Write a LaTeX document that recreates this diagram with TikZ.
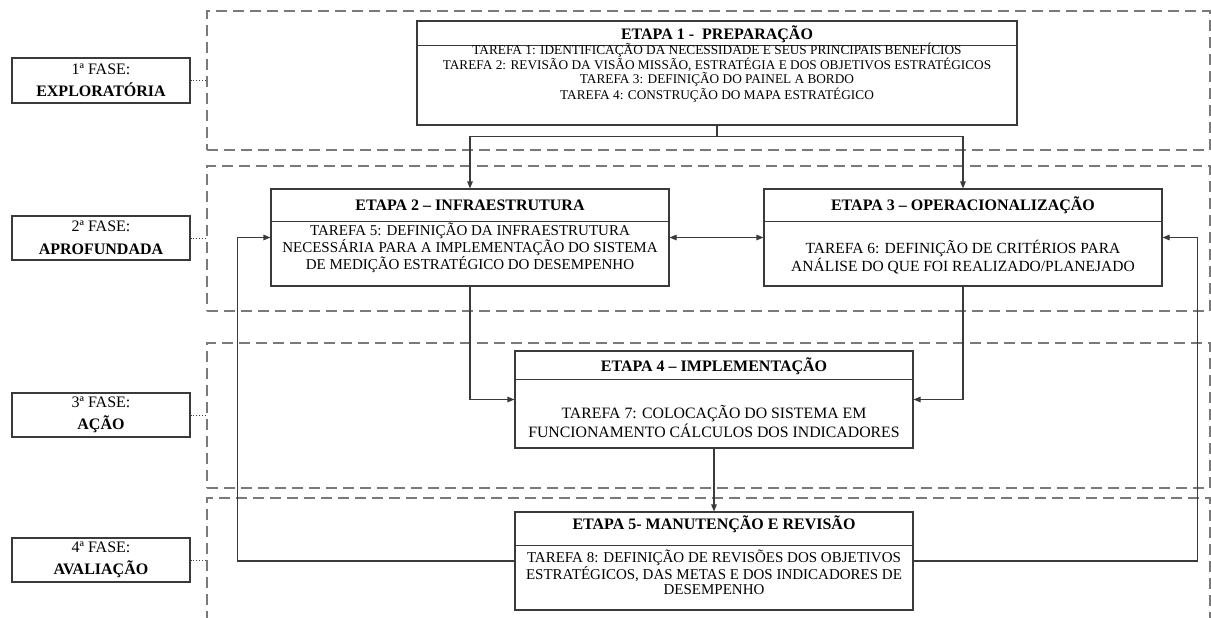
\documentclass[tikz,border=0pt]{standalone}
\usepackage{fontspec}
\setmainfont{Liberation Serif}
\usetikzlibrary{arrows.meta}
\definecolor{dashgray}{HTML}{7A7A7A}
\definecolor{linegray}{HTML}{3A3A3A}
\begin{document}
\begin{tikzpicture}[x=1pt,y=-1pt,
  phasebox/.style={draw=dashgray, dash pattern=on 11pt off 6pt, line width=1.1pt,
    rectangle, inner sep=0pt, minimum width=1003pt},
  labelbox/.style={draw=linegray, line width=1.1pt, rectangle, inner sep=0pt,
    minimum width=178pt, minimum height=44pt, align=center,
    font=\fontsize{16}{22.5}\selectfont},
  etapabox/.style={draw=linegray, line width=1.1pt, rectangle, inner sep=0pt, fill=white},
  headtext/.style={inner sep=0pt, align=center, font=\fontsize{16}{18}\bfseries\selectfont},
  bodytext/.style={inner sep=0pt, align=center},
  sepline/.style={draw=linegray, line width=1pt},
  link/.style={draw=linegray, line width=1.1pt},
  arr/.style={link, -{Triangle[length=7pt,width=5.5pt]}},
  dots/.style={draw=linegray, line width=0.9pt, dotted}
]
\useasboundingbox (0,0) rectangle (1211,618);

% phase frames
\node[phasebox, minimum height=139pt] (ph1) at (708.5,80.5) {};
\node[phasebox, minimum height=145pt] (ph2) at (708.5,238.5) {};
\node[phasebox, minimum height=145pt] (ph3) at (708.5,415.5) {};
\begin{scope}
  \clip (0,0) rectangle (1211,618);
  \node[phasebox, minimum height=142pt] (ph4) at (708.5,569) {};
\end{scope}

% phase labels
\node[labelbox, minimum height=45pt] (p1) at (101,80.5) {1ª FASE:\\\textbf{EXPLORATÓRIA}};
\node[labelbox] (p2) at (101,238) {2ª FASE:\\\textbf{APROFUNDADA}};
\node[labelbox] (p3) at (101,415) {3ª FASE:\\\textbf{AÇÃO}};
\node[labelbox] (p4) at (101,560) {4ª FASE:\\\textbf{AVALIAÇÃO}};
\draw[dots] (p1.east) -- (p1.east -| ph1.west);
\draw[dots] (p2.east) -- (p2.east -| ph2.west);
\draw[dots] (p3.east) -- (p3.east -| ph3.west);
\draw[dots] (p4.east) -- (p4.east -| ph4.west);

% stage 1
\node[etapabox, minimum width=600pt, minimum height=104pt] (e1) at (717,73) {};
\draw[sepline] (417,46) -- (1017,46);
\node[headtext] (h1) at (717,34) {ETAPA 1 -\ \ PREPARAÇÃO};
\node[bodytext, font=\fontsize{13.3}{12.8}\selectfont] (b1) at (717,72.5)
  {TAREFA 1: IDENTIFICAÇÃO DA NECESSIDADE E SEUS PRINCIPAIS BENEFÍCIOS\\
   TAREFA 2: REVISÃO DA VISÃO MISSÃO, ESTRATÉGIA E DOS OBJETIVOS ESTRATÉGICOS\\
   TAREFA 3: DEFINIÇÃO DO PAINEL A BORDO\\
   TAREFA 4: CONSTRUÇÃO DO MAPA ESTRATÉGICO};

% stage 2
\node[etapabox, minimum width=398pt, minimum height=97pt] (e2) at (470,237.5) {};
\draw[sepline] (271,221) -- (669,221);
\node[headtext] (h2) at (470,205) {ETAPA 2 – INFRAESTRUTURA};
\node[bodytext, font=\fontsize{15}{14.5}\selectfont] (b2) at (470,248)
  {TAREFA 5: DEFINIÇÃO DA INFRAESTRUTURA\\
   NECESSÁRIA PARA A IMPLEMENTAÇÃO DO SISTEMA\\
   DE MEDIÇÃO ESTRATÉGICO DO DESEMPENHO};

% stage 3
\node[etapabox, minimum width=398pt, minimum height=97pt] (e3) at (963,237.5) {};
\draw[sepline] (764,221) -- (1162,221);
\node[headtext] (h3) at (963,205) {ETAPA 3 – OPERACIONALIZAÇÃO};
\node[bodytext, font=\fontsize{15.5}{16}\selectfont] (b3) at (963,257)
  {TAREFA 6: DEFINIÇÃO DE CRITÉRIOS PARA\\
   ANÁLISE DO QUE FOI REALIZADO/PLANEJADO};

% stage 4
\node[etapabox, minimum width=398pt, minimum height=97pt] (e4) at (714,399.5) {};
\draw[sepline] (515,379) -- (913,379);
\node[headtext] (h4) at (714,366) {ETAPA 4 – IMPLEMENTAÇÃO};
\node[bodytext, font=\fontsize{15.8}{19}\selectfont] (b4) at (714,421.5)
  {TAREFA 7: COLOCAÇÃO DO SISTEMA EM\\
   FUNCIONAMENTO CÁLCULOS DOS INDICADORES};

% stage 5
\node[etapabox, minimum width=398pt, minimum height=98pt] (e5) at (714,561) {};
\draw[sepline] (515,545) -- (913,545);
\node[headtext] (h5) at (714,524) {ETAPA 5- MANUTENÇÃO E REVISÃO};
\node[bodytext, font=\fontsize{15}{15}\selectfont] (b5) at (714,572)
  {TAREFA 8: DEFINIÇÃO DE REVISÕES DOS OBJETIVOS\\
   ESTRATÉGICOS, DAS METAS E DOS INDICADORES DE\\
   DESEMPENHO};

% connectors
\draw[link] (e1.south) -- ++(0,11) coordinate (j1);
\draw[arr] (j1) -| (e2.north);
\draw[arr] (j1) -| (e3.north);
\draw[link, {Triangle[length=7pt,width=5.5pt]}-{Triangle[length=7pt,width=5.5pt]}] (e2.east) -- (e3.west);
\draw[arr] (e2.south) |- (e4.west);
\draw[arr] (e3.south) |- (e4.east);
\draw[arr] (e4.south) -- (e5.north);
\draw[link] (e5.west) -- ++(-277,0) coordinate (c1);
\draw[arr] (c1) |- (e2.west);
\draw[link] (e5.east) -- ++(284,0) coordinate (c2);
\draw[arr] (c2) |- (e3.east);
\end{tikzpicture}
\end{document}
